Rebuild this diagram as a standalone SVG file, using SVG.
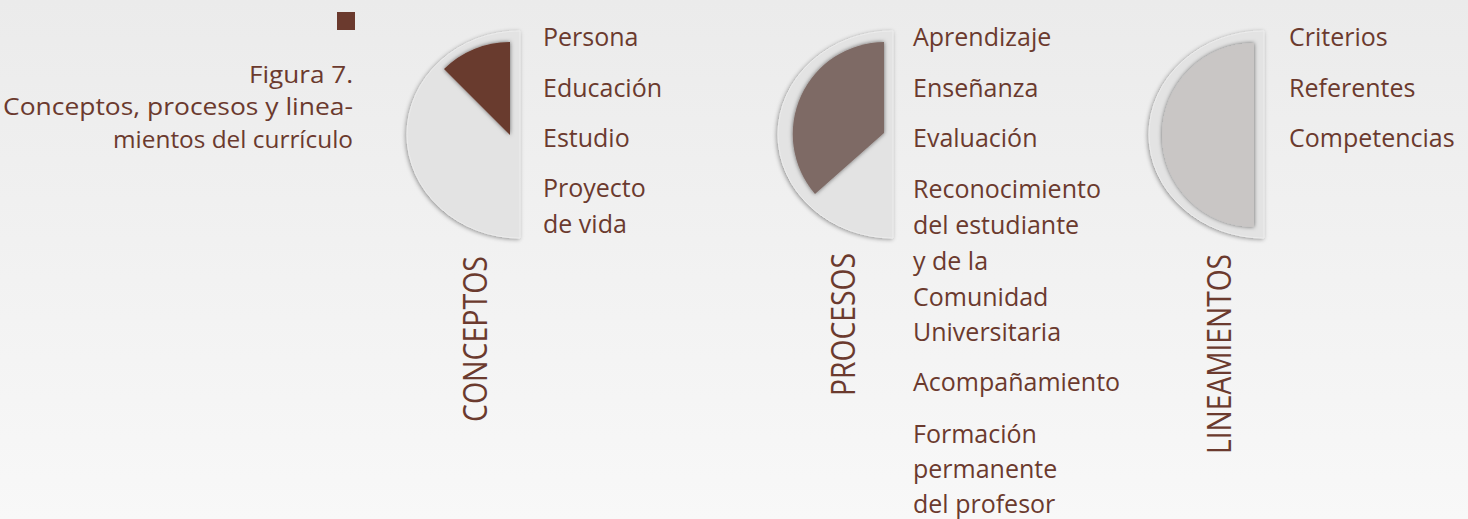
<svg xmlns="http://www.w3.org/2000/svg" width="1468" height="519" viewBox="0 0 1468 519">
  <defs>
    <linearGradient id="bg" x1="0" y1="0" x2="0" y2="1">
      <stop offset="0" stop-color="#ebebeb"/>
      <stop offset="1" stop-color="#f8f8f8"/>
    </linearGradient>
    <filter id="sh" x="-20%" y="-20%" width="140%" height="140%">
      <feDropShadow dx="-1" dy="1" stdDeviation="2" flood-color="#000" flood-opacity="0.4"/>
    </filter>
    <filter id="shin" x="-20%" y="-20%" width="140%" height="140%">
      <feDropShadow dx="0" dy="0" stdDeviation="2.2" flood-color="#000" flood-opacity="0.55"/>
    </filter>
  </defs>
  <style>
    .t{font-family:"Open Sans","Liberation Sans",sans-serif;font-size:25px;fill:#6b3a2e}
    .title{font-family:"Open Sans","Liberation Sans",sans-serif;font-size:24px;fill:#6b3a2e;text-anchor:end}
    .v{font-family:"Open Sans","Liberation Sans",sans-serif;font-size:33px;fill:#6b3a2e}
    .outer{fill:#e3e3e3;stroke:#ececec;stroke-width:1;filter:url(#sh)}
  </style>
  <rect width="1468" height="519" fill="url(#bg)"/>

  <g id="title">
    <rect x="337" y="12" width="18" height="18" fill="#6b3a2e"/>
    <text class="title" x="353" y="83" textLength="104" lengthAdjust="spacingAndGlyphs">Figura 7.</text>
    <text class="title" x="353" y="115" textLength="350" lengthAdjust="spacingAndGlyphs">Conceptos, procesos y linea-</text>
    <text class="title" x="353" y="148" textLength="240" lengthAdjust="spacingAndGlyphs">mientos del currículo</text>
  </g>

  <g id="conceptos">
    <path class="outer" d="M520,31 A113,103.5 0 0 0 520,238 Z"/>
    <path d="M510,135 L510,42 A93,93 0 0 0 444,69 Z" fill="#693a2d" filter="url(#shin)"/>
    <text class="v" transform="translate(487,422) rotate(-90)" textLength="166" lengthAdjust="spacingAndGlyphs">CONCEPTOS</text>
    <text class="t" x="543" y="46">Persona</text>
    <text class="t" x="543" y="97">Educación</text>
    <text class="t" x="543" y="147">Estudio</text>
    <text class="t" x="543" y="197">Proyecto</text>
    <text class="t" x="543" y="233">de vida</text>
  </g>

  <g id="procesos">
    <path class="outer" d="M893,31 A115,103.5 0 0 0 893,238 Z"/>
    <path d="M884,133 L884,42 A92,92 0 0 0 815,194 Z" fill="#7e6a65" filter="url(#shin)"/>
    <text class="v" transform="translate(855,396) rotate(-90)" textLength="143" lengthAdjust="spacingAndGlyphs">PROCESOS</text>
    <text class="t" x="913" y="46">Aprendizaje</text>
    <text class="t" x="913" y="97">Enseñanza</text>
    <text class="t" x="913" y="147">Evaluación</text>
    <text class="t" x="913" y="198">Reconocimiento</text>
    <text class="t" x="913" y="234">del estudiante</text>
    <text class="t" x="913" y="270">y de la</text>
    <text class="t" x="913" y="306">Comunidad</text>
    <text class="t" x="913" y="341">Universitaria</text>
    <text class="t" x="913" y="391">Acompañamiento</text>
    <text class="t" x="913" y="443">Formación</text>
    <text class="t" x="913" y="478">permanente</text>
    <text class="t" x="913" y="513">del profesor</text>
  </g>

  <g id="lineamientos">
    <path class="outer" d="M1264,31 A115,103.5 0 0 0 1264,238 Z"/>
    <path d="M1254,43 A92,92 0 0 0 1254,227 Z" fill="#c9c6c5" filter="url(#shin)"/>
    <text class="v" transform="translate(1231,454) rotate(-90)" textLength="200" lengthAdjust="spacingAndGlyphs">LINEAMIENTOS</text>
    <text class="t" x="1289" y="46">Criterios</text>
    <text class="t" x="1289" y="97">Referentes</text>
    <text class="t" x="1289" y="147">Competencias</text>
  </g>

  <g id="connectors"></g>
</svg>
